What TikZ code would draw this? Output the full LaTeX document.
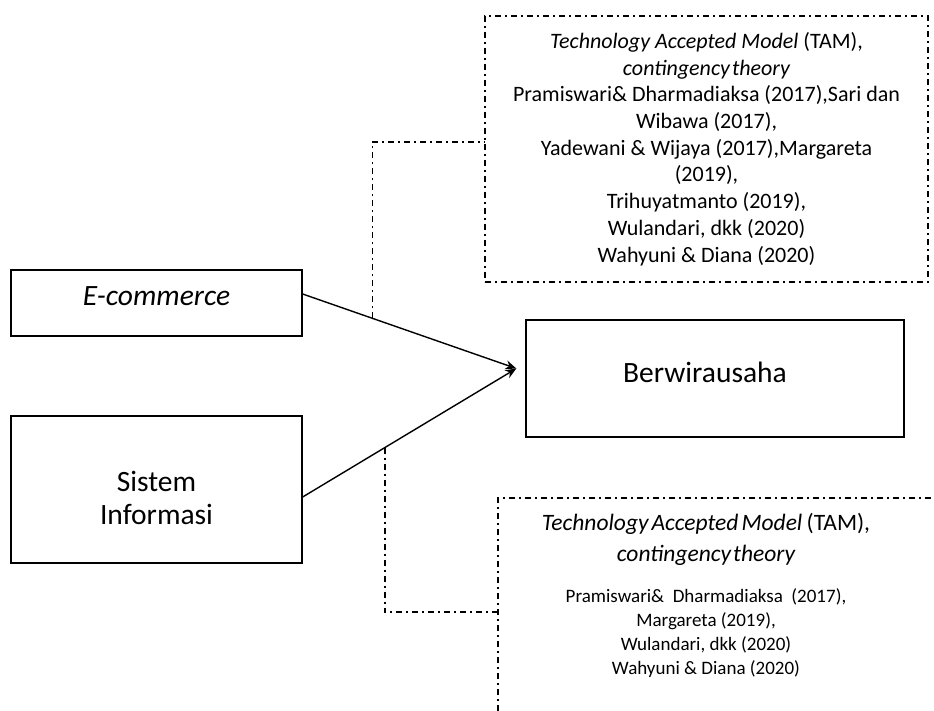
\documentclass[tikz,border=0pt]{standalone}
\usepackage{fontspec}
\setmainfont{Carlito}
\usetikzlibrary{arrows.meta,calc}
\tikzset{
  solidbox/.style={draw, line width=1.3pt, inner sep=0pt, align=center},
  dashdot/.style={line width=1.4pt, dash pattern=on 6pt off 4pt on 2pt off 4pt},
  arrowline/.style={line width=1.4pt, -{Stealth[length=11pt,width=9pt]}},
  bigtxt/.style={font=\fontsize{29.5}{33}\selectfont},
  reftxt/.style={font=\fontsize{22}{26.7}\selectfont, align=center},
  smalltxt/.style={font=\fontsize{19}{24}\selectfont, align=center},
}
\newcommand{\bigline}{\fontsize{23.5}{31}\selectfont}
\begin{document}
\begin{tikzpicture}[x=1pt,y=-1pt]
\useasboundingbox (0,0) rectangle (934,711);
% solid boxes
\node[solidbox, bigtxt, minimum width=291, minimum height=66] (ecom) at (156.5,303)
  {\raisebox{-2pt}[0pt][0pt]{\itshape E-commerce}};
\node[solidbox, bigtxt, minimum width=291, minimum height=147] (sist) at (156.5,489.5)
  {\raisebox{-34.5pt}[0pt][0pt]{\begin{tabular}[b]{@{}c@{}}Sistem\\Informasi\end{tabular}}};
\node[solidbox, bigtxt, minimum width=378, minimum height=117] (berw) at (715,378.5)
  {\raisebox{-3.5pt}[0pt][0pt]{Berwirausaha}\hspace*{20pt}};
% reference box top
\node[draw, dashdot, reftxt, minimum width=443, minimum height=266, inner sep=0pt] (tam1) at (706.5,149)
 {{\itshape Technology Accepted Model} (TAM),\\
  {\itshape contingency\hspace{2pt}theory}\\
  Pramiswari\& Dharmadiaksa (2017),Sari dan\\
  Wibawa (2017),\\
  Yadewani \& Wijaya (2017),Margareta\\
  (2019),\\
  Trihuyatmanto (2019),\\
  Wulandari, dkk (2020)\\
  Wahyuni \& Diana (2020)};
% reference box bottom (open frame)
\coordinate (f1) at (498,711);
\coordinate (f2) at (498,498);
\coordinate (f3) at (934,498);
\draw[dashdot] (f1) -- (f2) -- (f3);
\node[smalltxt, inner sep=0pt] (tam2) at (706,595)
 {{\bigline\itshape Technology\hspace{3pt}Accepted\hspace{3pt}Model} {\bigline (TAM),}\\[7pt]
  {\bigline\itshape contingency\hspace{2pt}theory}\\[17pt]
  Pramiswari\&\ \ Dharmadiaksa\ \ (2017),\\
  Margareta (2019),\\
  Wulandari, dkk (2020)\\
  Wahyuni \& Diana (2020)};
% arrows
\coordinate (tip) at ([xshift=-9pt,yshift=10pt]berw.west);
\coordinate (s1) at ([yshift=9pt]ecom.east);
\coordinate (s2) at ([yshift=-7.5pt]sist.east);
\draw[arrowline] (s1) -- (tip);
\draw[arrowline] (s2) -- (tip);
% dashed connectors
\coordinate (j1) at ($(s1)!0.326!(tip)$);
\coordinate (k1) at (j1 |- 0,142);
\draw[dashdot] (j1) -- (k1) -- (k1 -| tam1.west);
\coordinate (j2) at ($(s2)!0.385!(tip)$);
\coordinate (k2) at (j2 |- 0,612);
\draw[dashdot] (j2) -- (k2) -- (k2 -| f2);
\end{tikzpicture}
\end{document}
